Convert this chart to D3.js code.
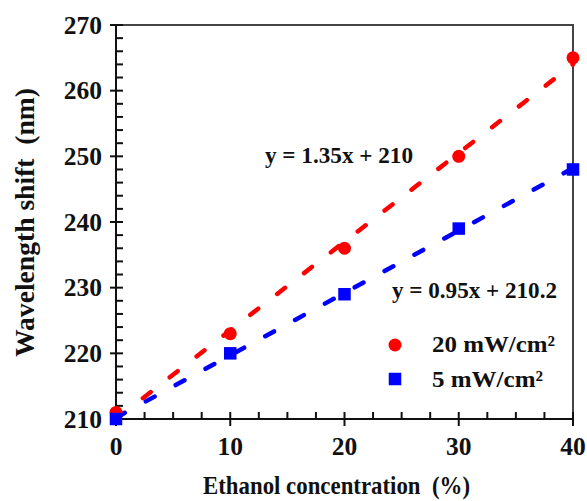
<!DOCTYPE html>
<html>
<head>
<meta charset="utf-8">
<script src="https://cdn.jsdelivr.net/npm/d3@7"></script>
<style>
  html, body { margin: 0; padding: 0; background: #fff; }
  svg { display: block; }
</style>
</head>
<body>
<svg id="chart" width="587" height="501"></svg>
<script>
// ---- data ----
const concentrations = [0, 10, 20, 30, 40];
const shift20 = [211, 223, 236, 250, 265];   // 20 mW/cm2 (red circles)
const shift5  = [210, 220, 229, 239, 248];   // 5 mW/cm2 (blue squares)
const fit20 = { slope: 1.35, intercept: 210 };
const fit5  = { slope: 0.95, intercept: 210.2 };
const xTicks = [0, 10, 20, 30, 40];
const yTicks = [210, 220, 230, 240, 250, 260, 270];
const seriesNames = ["20 mW/cm²", "5 mW/cm²"];
const equations = ["y = 1.35x + 210", "y = 0.95x + 210.2"];

(function () {
const FONT = "'Liberation Serif', 'Times New Roman', serif";
const svg = d3.select("#chart");
const pL = 116, pR = 573, pT = 25, pB = 419;
const x = d3.scaleLinear().domain([0, 40]).range([pL, pR]);
const y = d3.scaleLinear().domain([210, 270]).range([pB, pT]);

const txt = (sel) => sel.style("font-family", FONT).style("font-weight", "bold").attr("fill", "#111");

// frame (top & right)
svg.append("path")
  .attr("d", `M${pL},${pT}H${pR}V${pB}`)
  .attr("fill", "none").attr("stroke", "#444").attr("stroke-width", 2);

// y axis
const yAxis = svg.append("g");
yAxis.append("line").attr("x1", pL).attr("x2", pL).attr("y1", pT).attr("y2", pB)
  .attr("stroke", "#111").attr("stroke-width", 2);
d3.range(210, 270.1, 2).forEach(v => {
  const major = v % 10 === 0;
  yAxis.append("line")
    .attr("x1", major ? pL - 6 : pL).attr("x2", pL + 7)
    .attr("y1", y(v)).attr("y2", y(v))
    .attr("stroke", "#111").attr("stroke-width", 2);
});
yAxis.selectAll("text.yt").data(yTicks).join("text")
  .attr("class", "yt")
  .attr("x", pL - 14).attr("y", d => y(d) + 8.7)
  .attr("text-anchor", "end").style("font-size", "25.5px")
  .text(d => d).call(txt);

// x axis
const xAxis = svg.append("g");
xAxis.append("line").attr("x1", pL).attr("x2", pR).attr("y1", pB).attr("y2", pB)
  .attr("stroke", "#111").attr("stroke-width", 2);
d3.range(0, 40.01, 2.5).forEach(v => {
  const major = v % 10 === 0;
  xAxis.append("line")
    .attr("x1", x(v)).attr("x2", x(v))
    .attr("y1", pB - 7).attr("y2", major ? pB + 7 : pB)
    .attr("stroke", "#111").attr("stroke-width", 2);
});
xAxis.selectAll("text.xt").data(xTicks).join("text")
  .attr("class", "xt")
  .attr("x", d => x(d)).attr("y", 455)
  .attr("text-anchor", "middle").style("font-size", "25.5px")
  .text(d => d).call(txt);

// axis titles
svg.append("text")
  .attr("x", 203).attr("y", 494)
  .style("font-size", "24.5px")
  .attr("textLength", 267).attr("lengthAdjust", "spacingAndGlyphs")
  .style("white-space", "pre")
  .text("Ethanol concentration  (%)").call(txt);
svg.append("text")
  .attr("transform", `translate(34,357) rotate(-90)`)
  .style("font-size", "27px")
  .attr("textLength", 269).attr("lengthAdjust", "spacingAndGlyphs")
  .style("white-space", "pre")
  .text("Wavelength shift  (nm)").call(txt);

// fit lines
const fitLine = (fit, color) => {
  const xs = [0, 40];
  svg.append("line")
    .attr("x1", x(xs[0])).attr("y1", y(fit.intercept + fit.slope * xs[0]))
    .attr("x2", x(xs[1])).attr("y2", y(fit.intercept + fit.slope * xs[1]))
    .attr("stroke", color).attr("stroke-width", 4.5)
    .attr("stroke-linecap", "round")
    .attr("stroke-dasharray", "10,24");
};
fitLine(fit20, "#ff0000");
fitLine(fit5, "#0000ff");

// markers
svg.selectAll("circle.p20").data(concentrations).join("circle")
  .attr("class", "p20")
  .attr("cx", d => x(d)).attr("cy", (d, i) => y(shift20[i])).attr("r", 6.5)
  .attr("fill", "#ff0000");
const sq = 12.5;
svg.selectAll("rect.p5").data(concentrations).join("rect")
  .attr("class", "p5")
  .attr("x", d => x(d) - sq / 2).attr("y", (d, i) => y(shift5[i]) - sq / 2)
  .attr("width", sq).attr("height", sq)
  .attr("fill", "#0000ff");

// equations
svg.append("text").attr("x", 265).attr("y", 163).style("font-size", "24px")
  .attr("textLength", 148).attr("lengthAdjust", "spacingAndGlyphs")
  .text(equations[0]).call(txt);
svg.append("text").attr("x", 392).attr("y", 298).style("font-size", "24px")
  .attr("textLength", 165).attr("lengthAdjust", "spacingAndGlyphs")
  .text(equations[1]).call(txt);

// legend
svg.append("circle").attr("cx", 395).attr("cy", 345).attr("r", 6.5).attr("fill", "#ff0000");
svg.append("rect").attr("x", 395 - sq / 2).attr("y", 379 - sq / 2)
  .attr("width", sq).attr("height", sq).attr("fill", "#0000ff");
svg.append("text").attr("x", 432).attr("y", 352).style("font-size", "23.5px")
  .attr("textLength", 123).attr("lengthAdjust", "spacingAndGlyphs")
  .text(seriesNames[0]).call(txt);
svg.append("text").attr("x", 432).attr("y", 387).style("font-size", "23.5px")
  .attr("textLength", 111).attr("lengthAdjust", "spacingAndGlyphs")
  .text(seriesNames[1]).call(txt);
})();
</script>
</body>
</html>
